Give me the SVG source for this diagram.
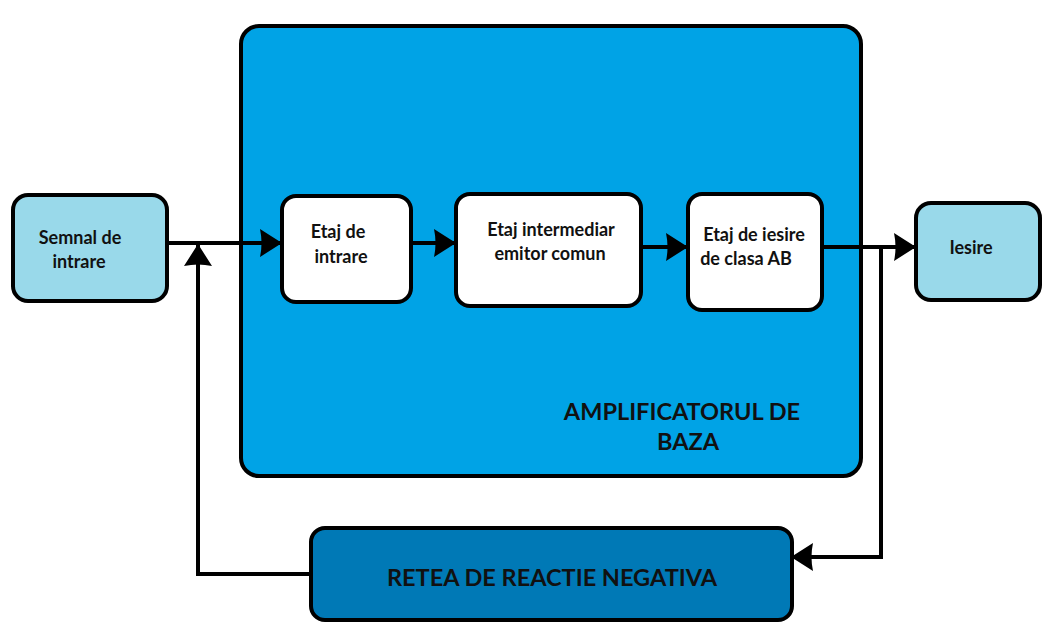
<svg xmlns="http://www.w3.org/2000/svg" width="1064" height="636" viewBox="0 0 1064 636">
<defs>
<style>
.box{stroke:#000;stroke-width:4}
.light{fill:#99d9ea}
.white{fill:#fff}
.t{font-family:Lato,"Liberation Sans",sans-serif;font-weight:bold;fill:#111;text-anchor:middle}
.s{font-size:18px}
.b{font-size:23.5px}
.ln{fill:none;stroke:#000;stroke-width:4}
</style>
<marker id="ah" viewBox="0 0 22 28" refX="21" refY="14" markerWidth="22" markerHeight="28" markerUnits="userSpaceOnUse" orient="auto">
<path d="M0,0 L22,14 L0,28 Q3,14 0,0 Z" fill="#000"/>
</marker>
</defs>
<rect width="1064" height="636" fill="#fff"/>
<g id="amplificator">
<rect class="box" x="241" y="26" width="620" height="450" rx="18" fill="#00a3e6"/>
<text class="t b" x="682" y="420">AMPLIFICATORUL DE</text>
<text class="t b" x="688" y="450">BAZA</text>
</g>
<g id="connectors">
<line class="ln" x1="167" y1="243" x2="281" y2="243" marker-end="url(#ah)"/>
<path class="ln" d="M310,574 H198 V245" marker-end="url(#ah)"/>
<line class="ln" x1="411" y1="243" x2="455" y2="243" marker-end="url(#ah)"/>
<line class="ln" x1="641" y1="247" x2="687" y2="247" marker-end="url(#ah)"/>
<line class="ln" x1="822" y1="247" x2="915" y2="247" marker-end="url(#ah)"/>
<path class="ln" d="M881,247 V557 H792" marker-end="url(#ah)"/>
</g>
<g id="semnal">
<rect class="box light" x="13" y="195" width="154" height="106" rx="15"/>
<text class="t s" x="80" y="244">Semnal de</text>
<text class="t s" x="79" y="268">intrare</text>
</g>
<g id="etaj-intrare">
<rect class="box white" x="282" y="196" width="129" height="106" rx="14"/>
<text class="t s" x="338" y="238">Etaj de</text>
<text class="t s" x="341" y="263">intrare</text>
</g>
<g id="etaj-intermediar">
<rect class="box white" x="456" y="194" width="185" height="112" rx="14"/>
<text class="t s" x="551" y="236">Etaj intermediar</text>
<text class="t s" x="550" y="260">emitor comun</text>
</g>
<g id="etaj-iesire">
<rect class="box white" x="688" y="194" width="134" height="116" rx="14"/>
<text class="t s" x="754" y="241">Etaj de iesire</text>
<text class="t s" x="746" y="265">de clasa AB</text>
</g>
<g id="iesire">
<rect class="box light" x="916" y="203" width="124" height="97" rx="15"/>
<text class="t s" x="971" y="254">Iesire</text>
</g>
<g id="retea">
<rect class="box" x="311" y="528" width="481" height="92" rx="14" fill="#0079b6"/>
<text class="t b" x="552" y="586">RETEA DE REACTIE NEGATIVA</text>
</g>
</svg>
